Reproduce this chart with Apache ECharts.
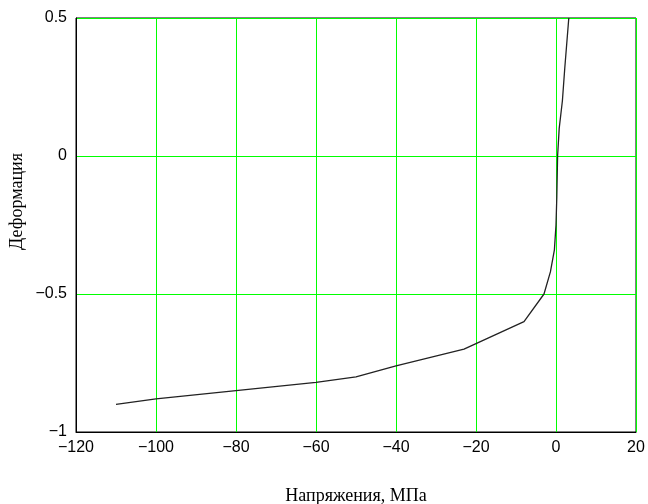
<!DOCTYPE html>
<html>
<head>
<meta charset="utf-8">
<script src="https://cdn.jsdelivr.net/npm/echarts@6/dist/echarts.min.js"></script>
<style>
  html, body { margin: 0; padding: 0; background: #fff; }
  #chart { width: 648px; height: 504px; }
</style>
</head>
<body>
<div id="chart"></div>
<script>
// stress (MPa) vs strain
const stress = [-110, -100, -80, -60, -50, -40, -23, -8, -3, -1.4, -0.4, 0, 0.2, 0.4, 0.8, 1.6, 2.2, 3.2]
const strain = [-0.9, -0.88, -0.85, -0.82, -0.8, -0.76, -0.7, -0.6, -0.5, -0.42, -0.34, -0.25, -0.15, 0, 0.1, 0.2, 0.32, 0.5]

const xTicks = [-120, -100, -80, -60, -40, -20, 0, 20]
const yTicks = [-1, -0.5, 0, 0.5]

const tickFont = '"Liberation Sans", Arial, sans-serif'
const nameFont = '"Liberation Serif", "DejaVu Serif", serif'
const green = '#00ff00'

const fmt = (v) => String(v).replace('-', '\u2212')

const chart = echarts.init(document.getElementById('chart'), null, { renderer: 'canvas' })

// plot is 560 x 414 so every grid line lands on a whole pixel
chart.setOption({
  animation: false,
  backgroundColor: '#fff',
  grid: {
    left: 76,
    right: 12,
    top: 18,
    bottom: 72,
    containLabel: false,
    outerBoundsMode: 'none',
    show: true,
    borderColor: '#000',
    borderWidth: 1,
  },
  graphic: [
    {
      type: 'text',
      left: 8,
      top: 153,
      rotation: Math.PI / 2,
      style: {
        text: 'Деформация',
        font: '18px ' + nameFont,
        fill: '#000',
      },
    },
  ],
  xAxis: {
    type: 'value',
    min: xTicks[0],
    max: xTicks[xTicks.length - 1],
    interval: 20,
    name: 'Напряжения, МПа',
    nameLocation: 'middle',
    nameGap: 55,
    nameTextStyle: { fontFamily: nameFont, fontSize: 18, color: '#000' },
    axisLine: { show: true, onZero: false, lineStyle: { color: '#000', width: 1 } },
    axisTick: { show: false },
    axisLabel: {
      fontFamily: tickFont,
      fontSize: 16,
      color: '#000',
      margin: 8,
      formatter: fmt,
    },
    splitLine: { show: true, lineStyle: { color: green, width: 1 } },
  },
  yAxis: {
    type: 'value',
    min: yTicks[0],
    max: yTicks[yTicks.length - 1],
    interval: 0.5,
    axisLine: { show: true, onZero: false, lineStyle: { color: '#000', width: 1 } },
    axisTick: { show: false },
    axisLabel: {
      fontFamily: tickFont,
      fontSize: 16,
      color: '#000',
      margin: 9,
      formatter: fmt,
    },
    splitLine: { show: true, lineStyle: { color: green, width: 1 } },
  },
  series: [
    {
      type: 'line',
      data: stress.map((s, i) => [s, strain[i]]),
      showSymbol: false,
      symbol: 'none',
      smooth: false,
      lineStyle: { color: '#222', width: 1.3 },
    },
  ],
})
</script>
</body>
</html>
